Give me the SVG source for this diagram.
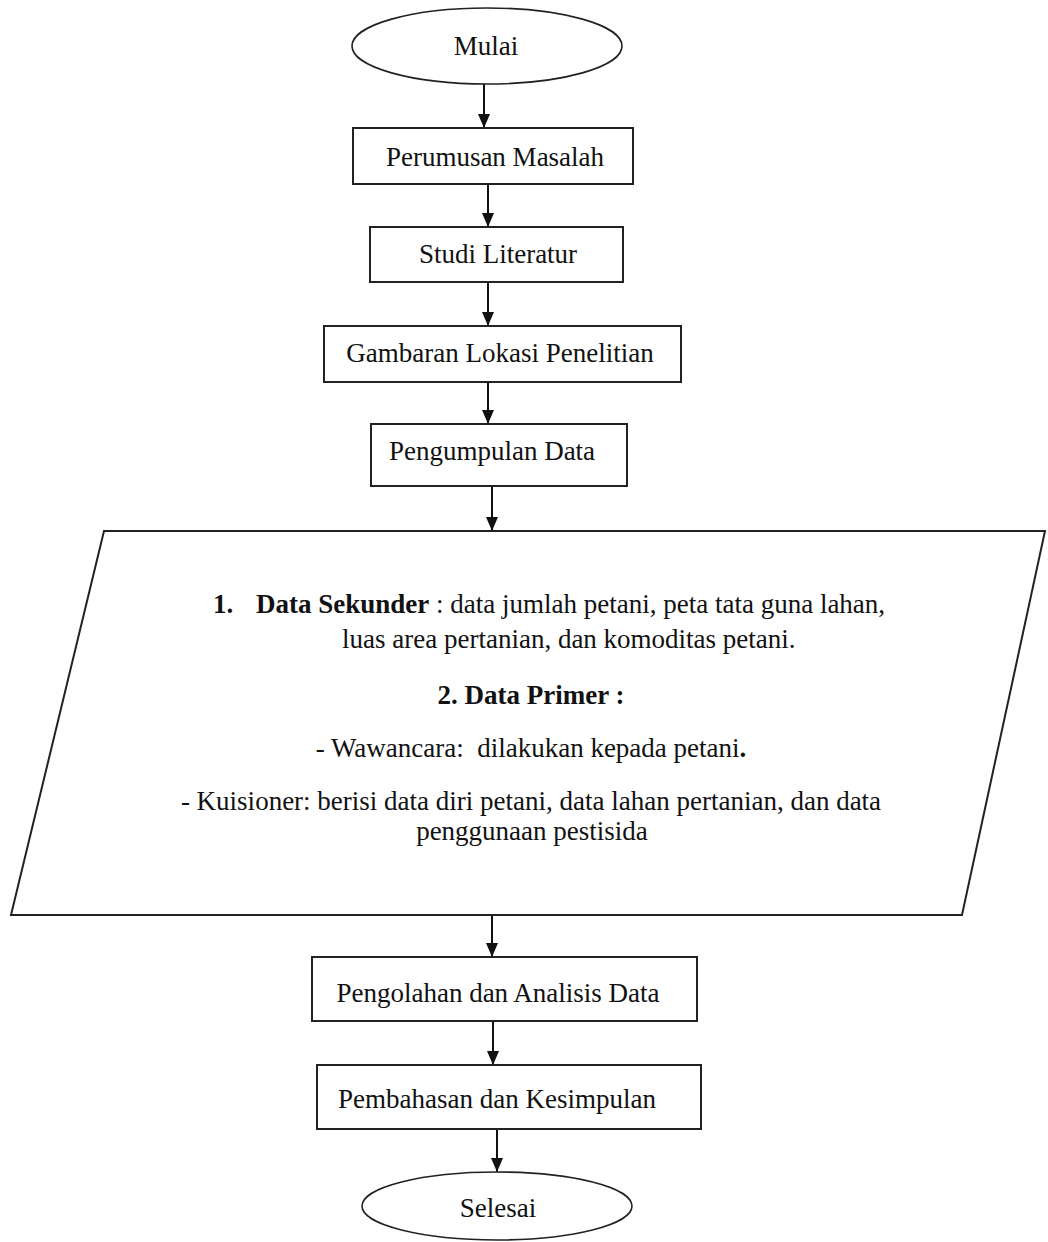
<svg xmlns="http://www.w3.org/2000/svg" width="1048" height="1242" viewBox="0 0 1048 1242">
<style>
.box{fill:#fff;stroke:#222;stroke-width:2}
.ell{fill:#fff;stroke:#222;stroke-width:1.6}
.t{font-family:"Liberation Serif","Times New Roman",serif;font-size:27px;fill:#111;text-anchor:middle}
.p{font-family:"Liberation Serif","Times New Roman",serif;font-size:27px;fill:#111}
.b{font-weight:bold}
.c{stroke:#111;stroke-width:2;fill:none;marker-end:url(#ah)}
</style>
<defs>
<marker id="ah" markerWidth="14" markerHeight="12" refX="14" refY="6" orient="auto" markerUnits="userSpaceOnUse" viewBox="0 0 14 12">
<path d="M0,0 L14,6 L0,12 Z" fill="#111"/>
</marker>
</defs>
<rect width="1048" height="1242" fill="#fff"/>
<g id="connectors">
<line class="c" x1="484" y1="84" x2="484" y2="128"/>
<line class="c" x1="488" y1="184" x2="488" y2="227"/>
<line class="c" x1="488" y1="282" x2="488" y2="326"/>
<line class="c" x1="488" y1="382" x2="488" y2="424"/>
<line class="c" x1="492" y1="486" x2="492" y2="531"/>
<line class="c" x1="492" y1="915" x2="492" y2="957"/>
<line class="c" x1="493" y1="1021" x2="493" y2="1065"/>
<line class="c" x1="497" y1="1129" x2="497" y2="1172"/>
</g>
<g id="mulai">
<ellipse class="ell" cx="487" cy="46" rx="135" ry="38"/>
<text class="t" x="486" y="55">Mulai</text>
</g>
<g id="perumusan">
<rect class="box" x="353" y="128" width="280" height="56"/>
<text class="t" x="495" y="166">Perumusan Masalah</text>
</g>
<g id="studi">
<rect class="box" x="370" y="227" width="253" height="55"/>
<text class="t" x="498" y="263">Studi Literatur</text>
</g>
<g id="gambaran">
<rect class="box" x="324" y="326" width="357" height="56"/>
<text class="t" x="500" y="362">Gambaran Lokasi Penelitian</text>
</g>
<g id="pengumpulan">
<rect class="box" x="371" y="424" width="256" height="62"/>
<text class="t" x="492" y="460">Pengumpulan Data</text>
</g>
<g id="data">
<polygon class="box" points="104,531 1045,531 962,915 11,915"/>
<text class="p" x="213" y="613"><tspan class="b">1.</tspan><tspan class="b" x="256">Data Sekunder</tspan> : data jumlah petani, peta tata guna lahan,</text>
<text class="p" x="342" y="648">luas area pertanian, dan komoditas petani.</text>
<text class="t b" x="531" y="704">2. Data Primer :</text>
<text class="t" x="531" y="757">- Wawancara:&#160; dilakukan kepada petani<tspan class="b">.</tspan></text>
<text class="t" x="531" y="810">- Kuisioner: berisi data diri petani, data lahan pertanian, dan data</text>
<text class="t" x="532" y="840">penggunaan pestisida</text>
</g>
<g id="pengolahan">
<rect class="box" x="312" y="957" width="385" height="64"/>
<text class="t" x="498" y="1002">Pengolahan dan Analisis Data</text>
</g>
<g id="pembahasan">
<rect class="box" x="317" y="1065" width="384" height="64"/>
<text class="t" x="497" y="1108">Pembahasan dan Kesimpulan</text>
</g>
<g id="selesai">
<ellipse class="ell" cx="497" cy="1206" rx="135" ry="34"/>
<text class="t" x="498" y="1217">Selesai</text>
</g>
</svg>
